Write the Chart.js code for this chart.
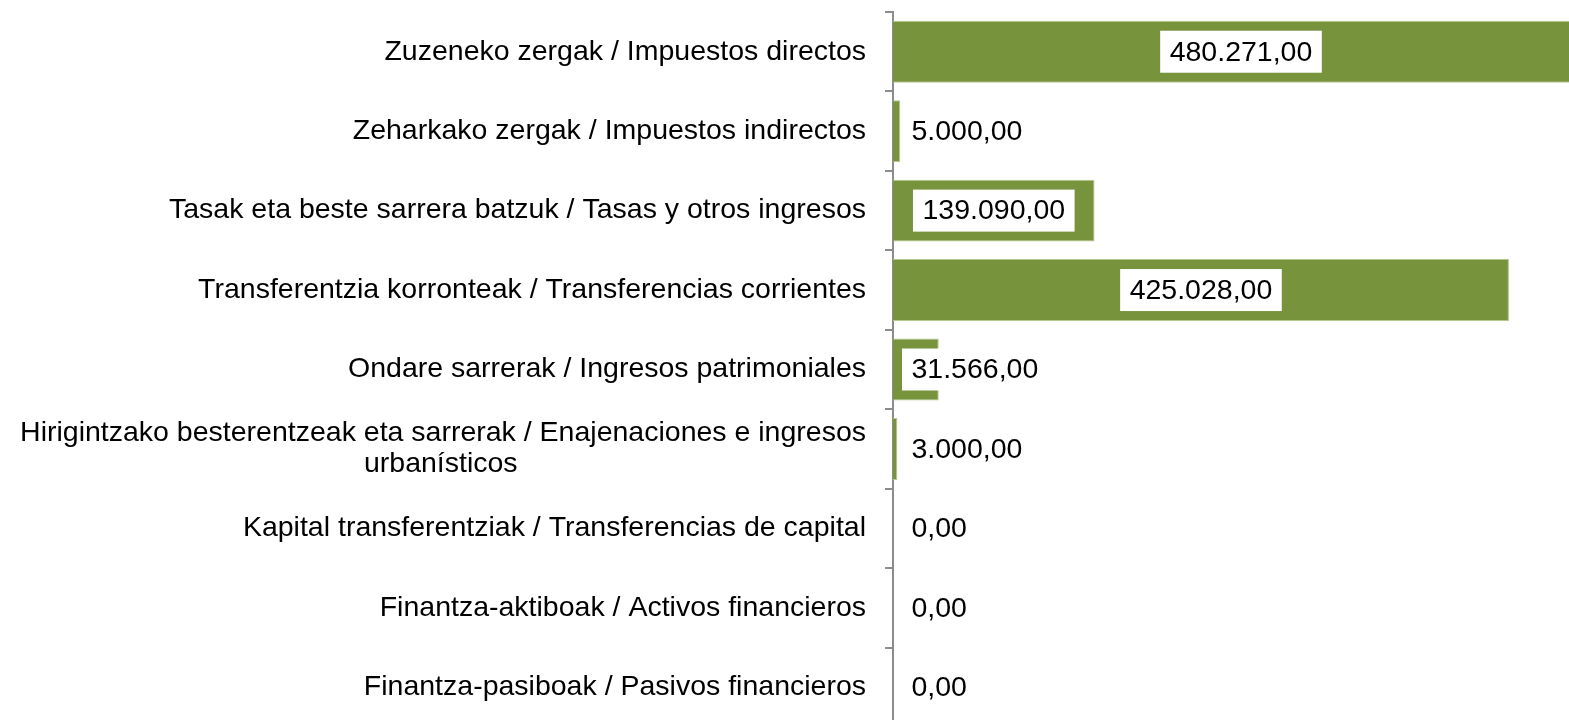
<!DOCTYPE html>
<html>
<head>
  <meta charset="UTF-8">
  <title>Sarrerak / Ingresos</title>
  <script src="https://cdn.jsdelivr.net/npm/chart.js"></script>
  <style>
    body {
      margin: 0;
      padding: 0;
      overflow: hidden;
      background-color: white;
    }
    canvas {
      display: block;
    }
  </style>
</head>
<body>
  <canvas id="grafica" width="1569" height="727"></canvas>

  <script type="text/javascript">
    const kategoriak = [
      'Zuzeneko zergak / Impuestos directos',
      'Zeharkako zergak / Impuestos indirectos',
      'Tasak eta beste sarrera batzuk / Tasas y otros ingresos',
      'Transferentzia korronteak / Transferencias corrientes',
      'Ondare sarrerak / Ingresos patrimoniales',
      ['Hirigintzako besterentzeak eta sarrerak / Enajenaciones e ingresos', 'urbanísticos'],
      'Kapital transferentziak / Transferencias de capital',
      'Finantza-aktiboak / Activos financieros',
      'Finantza-pasiboak / Pasivos financieros'
    ];
    const balioak = [480271, 5000, 139090, 425028, 31566, 3000, 0, 0, 0];

    const letra = "'Liberation Sans', Arial, sans-serif";
    const letraTamaina = 28.5;

    // zenbakiak: 480.271,00
    function formatua(v) {
      const osoa = Math.floor(v).toString().replace(/\B(?=(\d{3})+(?!\d))/g, '.');
      return osoa + ',00';
    }

    // bigarren lerroa lehenengoaren azpian zentratu (Excel bezala)
    const neurtzailea = document.createElement('canvas').getContext('2d');
    neurtzailea.font = letraTamaina + 'px ' + letra;
    function zentratu(lerroak) {
      if (!Array.isArray(lerroak)) return lerroak;
      const zabal = neurtzailea.measureText(lerroak[0]).width;
      return lerroak.map(function(l) {
        const w = neurtzailea.measureText(l).width;
        const hutsunea = neurtzailea.measureText(' ').width;
        const n = Math.round((zabal - w) / 2 / hutsunea);
        return l + ' '.repeat(n);
      });
    }

    const etiketak = {
      id: 'etiketak',
      afterDatasetsDraw(chart) {
        const ctx = chart.ctx;
        const meta = chart.getDatasetMeta(0);
        const ardatza = chart.chartArea.left;
        ctx.save();
        ctx.font = letraTamaina + 'px ' + letra;
        ctx.textBaseline = 'middle';
        ctx.textAlign = 'left';
        meta.data.forEach(function(barra, i) {
          const testua = formatua(balioak[i]);
          const tw = ctx.measureText(testua).width;
          const kw = tw + 19;
          const kh = 42;
          const luzera = barra.x - barra.base;
          let x0;
          if (luzera > kw + 10) {
            x0 = (barra.x + barra.base) / 2 - kw / 2;
          } else {
            x0 = ardatza + 9;
          }
          ctx.fillStyle = '#ffffff';
          ctx.fillRect(x0, barra.y - kh / 2, kw, kh);
          ctx.fillStyle = '#000000';
          ctx.fillText(testua, x0 + 9.5, barra.y + 1);
        });
        ctx.restore();
      }
    };

    const ctx = document.getElementById('grafica').getContext('2d');
    new Chart(ctx, {
      type: 'bar',
      data: {
        labels: kategoriak.map(zentratu),
        datasets: [{
          data: balioak,
          backgroundColor: '#77933C',
          borderColor: '#B5C78F',
          borderWidth: 1,
          barPercentage: 0.78,
          categoryPercentage: 1
        }]
      },
      options: {
        indexAxis: 'y',
        responsive: false,
        animation: false,
        layout: { padding: { top: 12, left: 0, right: 0, bottom: 0 } },
        plugins: {
          legend: { display: false },
          tooltip: { enabled: false }
        },
        scales: {
          x: {
            display: false,
            min: 0,
            max: 466500
          },
          y: {
            afterFit: function(scale) {
              scale.width = 893;
              scale.paddingTop = 0;
              scale.paddingBottom = 0;
            },
            grid: {
              offset: true,
              drawOnChartArea: false,
              drawTicks: true,
              tickLength: 8,
              color: '#8C8C8C',
              lineWidth: 2
            },
            border: { display: true, color: '#8C8C8C', width: 2 },
            ticks: {
              padding: 19,
              color: '#000000',
              font: { family: letra, size: letraTamaina, lineHeight: 1.1 }
            }
          }
        }
      },
      plugins: [etiketak]
    });
  </script>
</body>
</html>
